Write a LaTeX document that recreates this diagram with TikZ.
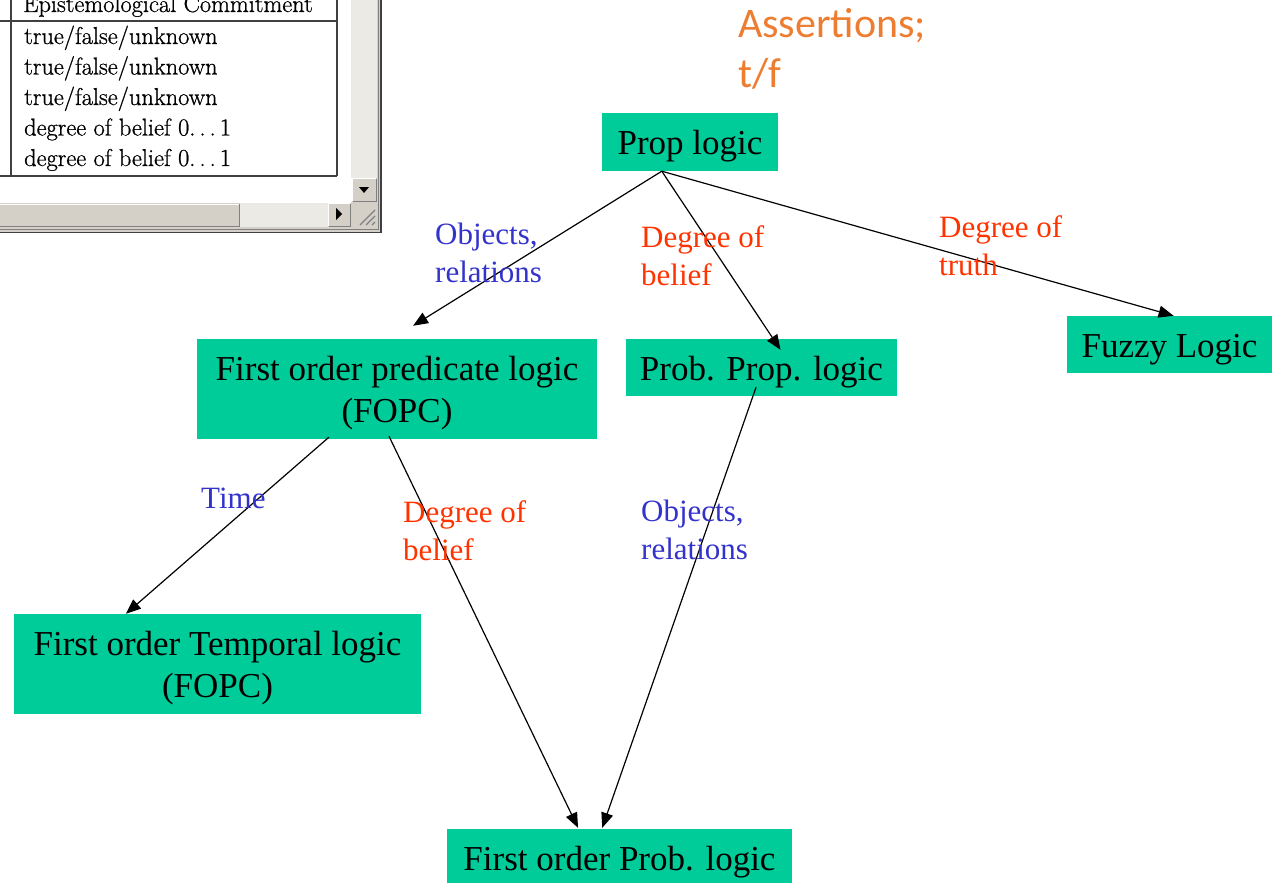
\documentclass[tikz,border=0pt]{standalone}
\usepackage{fontspec}
\setmainfont{Liberation Serif}
\newfontfamily\carlitofont{Carlito}
\newfontfamily\lmfont[FakeBold=0.8]{Latin Modern Roman}
\usetikzlibrary{arrows.meta,calc}
\definecolor{boxgreen}{RGB}{0,204,153}
\definecolor{lblue}{RGB}{51,51,204}
\definecolor{lred}{RGB}{255,51,0}
\definecolor{aorange}{RGB}{237,125,49}
\definecolor{winface}{RGB}{212,208,200}
\definecolor{wintrack}{RGB}{236,234,229}
\definecolor{windark}{RGB}{128,128,128}
\definecolor{winblack}{RGB}{64,64,64}
\begin{document}
\begin{tikzpicture}[x=1pt,y=-1pt,
  logicbox/.style={fill=boxgreen, inner sep=0pt, align=center, text height=25pt, text depth=0pt,
    font=\fontsize{35}{42}\selectfont},
  logicboxtwo/.style={fill=boxgreen, inner sep=0pt, align=center, text height=66pt, text depth=0pt,
    font=\fontsize{35}{42}\selectfont},
  edgelabel/.style={anchor=north west, inner sep=0pt, align=left, font=\fontsize{31}{38}\selectfont},
  conn/.style={line width=1.2pt, -{Triangle[length=15pt,width=12pt]}},
  tabtext/.style={anchor=base west, inner sep=0pt, font=\lmfont\fontsize{24.4}{28}\selectfont},
  tabline/.style={line width=1.1pt, draw=winblack},
]
\useasboundingbox (0,0) rectangle (1272,883);

% ---------- window fragment ----------
\draw[tabline] (11,0) -- (11,176);
\draw[tabline] (337,0) -- (337,176);
\draw[tabline] (0,21) -- (337,21);
\draw[tabline] (0,176) -- (337,176);
\node[tabtext] (t0) at (23,12) {Epistemological Commitment};
\node[tabtext] (t1) at (24,44) {true/false/unknown};
\node[tabtext] (t2) at (24,74.5) {true/false/unknown};
\node[tabtext] (t3) at (24,105) {true/false/unknown};
\node[tabtext] (t4) at (24,135.5) {degree of belief 0.\,.\,.\,1};
\node[tabtext] (t5) at (24,166) {degree of belief 0.\,.\,.\,1};
% vertical scrollbar track
\fill[wintrack] (351,0) rectangle (377,178);
% down button
\fill[winface] (352,178) rectangle (377,202);
\draw[white, line width=1pt] (352.5,201) -- (352.5,178.5) -- (376,178.5);
\draw[windark, line width=1pt] (353,201.5) -- (376.5,201.5) -- (376.5,179);
\fill[black] (359,187) -- (369,187) -- (364,193) -- cycle;
% horizontal scrollbar track
\fill[wintrack] (0,203) rectangle (352,227);
% thumb
\fill[winface] (0,203) rectangle (240,227);
\draw[white, line width=1pt] (0,204) -- (239,204);
\draw[windark, line width=1pt] (0,226.5) -- (239.5,226.5) -- (239.5,204);
% right button
\fill[winface] (328,203) rectangle (351,227);
\draw[white, line width=1pt] (328.5,226) -- (328.5,203.5) -- (350,203.5);
\draw[windark, line width=1pt] (329,226.5) -- (350.5,226.5) -- (350.5,204);
\fill[black] (336,208) -- (342,214) -- (336,220) -- cycle;
% size grip
\fill[winface] (351,202) rectangle (377,228);
\draw[windark, line width=1.2pt] (375,210) -- (360,225);
\draw[windark, line width=1.2pt] (375,216) -- (366,225);
\draw[windark, line width=1.2pt] (375,222) -- (372,225);
% frame
\fill[winface] (0,227) rectangle (381,233);
\fill[winface] (377,0) rectangle (381,233);
\draw[windark, line width=1pt] (0,229.5) -- (378.5,229.5) -- (378.5,0);
\draw[winblack, line width=1.2pt] (0,232.5) -- (381,232.5) -- (381,0);

% ---------- title ----------
\node[anchor=north west, inner sep=0pt, align=left, text=aorange,
      font=\carlitofont\fontsize{42}{50}\selectfont] (assert) at (738,8) {Assertions;\\t/f};

% ---------- logic boxes ----------
\node[logicbox, minimum width=176pt, minimum height=58pt] (prop) at (690,142) {Prop logic};
\node[logicboxtwo, minimum width=400pt, minimum height=100pt] (fopc) at (397,389)
  {First order predicate logic\\(FOPC)};
\node[logicbox, minimum width=271pt, minimum height=57pt] (pp) at (761.5,367.5) {Prob. Prop. logic};
\node[logicbox, minimum width=205pt, minimum height=57pt] (fuzzy) at (1169.5,344.5) {Fuzzy Logic};
\node[logicboxtwo, minimum width=407pt, minimum height=100pt] (temp) at (217.5,664)
  {First order Temporal logic\\(FOPC)};
\node[logicbox, minimum width=345pt, minimum height=57pt] (fop) at (619.5,857.5) {First order Prob. logic};

% ---------- connectors ----------
\draw[conn] ($(prop.south west)!0.34!(prop.south east)$) -- ($(fopc.north west)!0.54!(fopc.north east)+(0,-13)$);
\draw[conn] ($(prop.south west)!0.34!(prop.south east)$) -- ($(pp.north west)!0.57!(pp.north east)+(0,11)$);
\draw[conn] ($(prop.south west)!0.34!(prop.south east)$) -- ($(fuzzy.north west)!0.52!(fuzzy.north east)$);
\draw[conn] ($(fopc.south west)!0.33!(fopc.south east)+(0,-2)$) -- ($(temp.north west)!0.275!(temp.north east)$);
\draw[conn] ($(fopc.south west)!0.48!(fopc.south east)+(0,-3)$) -- ($(fop.north west)!0.38!(fop.north east)+(0,-1)$);
\draw[conn] ($(pp.south west)!0.48!(pp.south east)+(0,-9)$) -- ($(fop.north west)!0.45!(fop.north east)+(0,-1)$);

% ---------- labels ----------
\node[edgelabel, text=lblue] (l1) at (435,223) {Objects,\\relations};
\node[edgelabel, text=lred] (l2) at (641,225) {Degree of\\belief};
\node[edgelabel, text=lred] (l3) at (939,215) {Degree of\\truth};
\node[edgelabel, text=lblue] (l4) at (201,488) {Time};
\node[edgelabel, text=lred] (l5) at (403,500) {Degree of\\belief};
\node[edgelabel, text=lblue] (l6) at (641,500) {Objects,\\relations};
\end{tikzpicture}
\end{document}
